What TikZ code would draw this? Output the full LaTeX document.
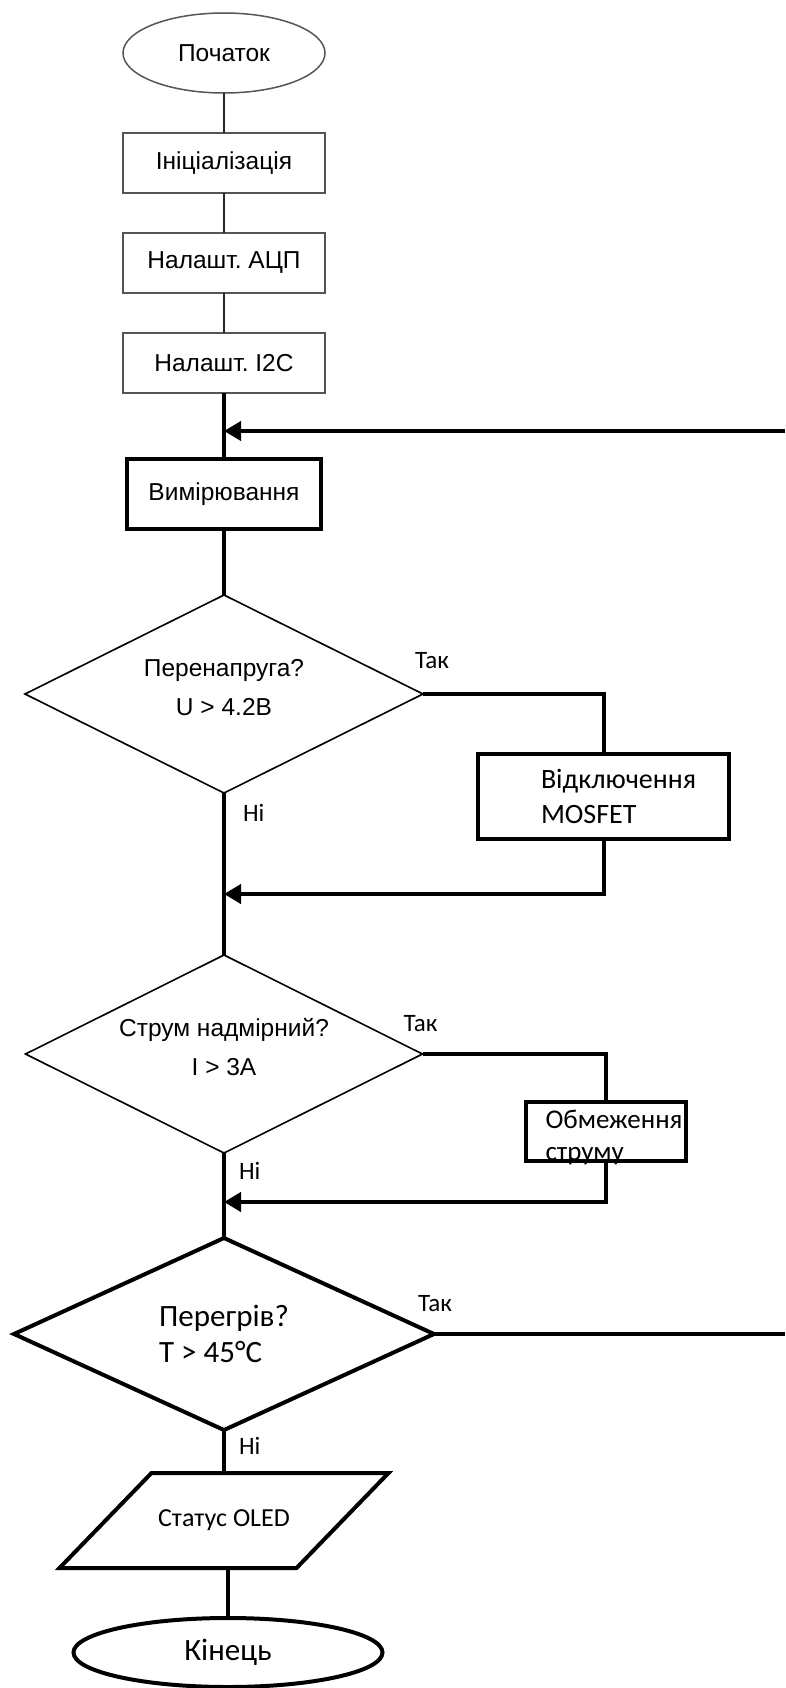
\documentclass[tikz,border=0pt]{standalone}
\usepackage{fontspec}
\setmainfont{Liberation Sans}
\newfontfamily\calibri{Carlito}
\usepackage{xcolor}
\usetikzlibrary{shapes,positioning,arrows.meta}

\definecolor{framegray}{RGB}{85,85,85}
\frenchspacing

\begin{document}
\begin{tikzpicture}[x=1pt, y=-1pt, node distance=40pt,
	  every node/.style = {inner sep=0pt, outer sep=0pt, align=center},
	  terminal/.style = {ellipse, draw=framegray, line width=1.5pt,
	    minimum width=202pt, minimum height=80pt,
	    font=\fontsize{24.5}{29}\selectfont},
	  initbox/.style = {rectangle, draw=framegray, line width=2.5pt,
	    minimum width=202pt, minimum height=60pt,
	    font=\fontsize{24.5}{29}\selectfont},
	  workbox/.style = {rectangle, draw, line width=4pt},
	  decision/.style = {diamond, aspect=2, draw, line width=1.6pt,
	    minimum width=398pt, minimum height=198pt, text depth=14pt,
	    font=\fontsize{24.5}{39}\selectfont},
	  answer/.style = {anchor=base west,
	    font=\calibri\fontsize{25}{30}\selectfont},
	  thinline/.style = {draw=black!85, line width=1.6pt},
	  thickline/.style = {draw, line width=4pt},
	  joinarrow/.style = {thickline, -{Triangle[length=17pt,width=19pt]}}]
	\useasboundingbox (0,0) rectangle (785,1688);
	\coordinate (rim) at (785,0);

	\node[terminal] (start) at (224,53) {Початок};
	\node[initbox, below=of start] (init) {Ініціалізація};
	\node[initbox, below=of init] (adc) {Налашт. АЦП};
	\node[initbox, below=of adc] (i2c) {Налашт. I2C};
	\node[workbox, minimum width=194pt, minimum height=70pt,
	  font=\fontsize{24.5}{29}\selectfont, below=66pt of i2c] (measure) {Вимірювання};
	\node[decision, below=66pt of measure] (over) {Перенапруга?\\U > 4.2В};
	\node[workbox, minimum width=251pt, minimum height=85pt,
	  below right=60pt and 55pt of over.east] (cutoff) {};
	\node[anchor=west, align=left, font=\calibri\fontsize{28}{35}\selectfont]
	  (cutofftext) at ([xshift=63pt]cutoff.west) {Відключення\\MOSFET};
	\node[decision, minimum width=397pt, below=162pt of over] (current) {Струм надмірний?\\I > 3A};
	\node[workbox, minimum width=160pt, minimum height=59pt,
	  below right=48pt and 103pt of current.east] (limit) {};
	\node[anchor=west, align=left, font=\calibri\fontsize{27}{32}\selectfont]
	  (limittext) at ([xshift=20pt, yshift=-6pt]limit.west) {Обмеження\\струму};
	\node[decision, line width=4pt, minimum width=420pt, minimum height=192pt,
	  text depth=0pt, align=left, font=\calibri\fontsize{31}{36}\selectfont,
	  below=85pt of current] (heat) {Перегрів?\\T > 45°C};
	\node[minimum width=237pt, minimum height=95pt,
	  font=\calibri\fontsize{26}{32}\selectfont, below=43pt of heat] (oled) {Статус OLED};
	\node[terminal, draw=black, line width=4pt, minimum width=309pt, minimum height=69pt,
	  font=\calibri\fontsize{31}{36}\selectfont, below=50pt of oled, xshift=4pt] (finish) {Кінець};

	\draw[thickline] ([xshift=46pt]oled.north west) -- ([xshift=46pt]oled.north east)
	  -- ([xshift=-46pt]oled.south east) -- ([xshift=-46pt]oled.south west) -- cycle;

	\draw[thinline] (start) -- (init);
	\draw[thinline] (init) -- (adc);
	\draw[thinline] (adc) -- (i2c);
	\draw[thickline] (i2c) -- (measure);
	\draw[joinarrow] ([yshift=-38pt]i2c.south -| rim) -- ([yshift=-38pt]i2c.south);
	\draw[thickline] (measure) -- (over);
	\draw[thickline] (over.east) -| (cutoff.north);
	\draw[joinarrow] (cutoff.south) |- ([yshift=-55pt]cutoff.south -| over.south);
	\draw[thickline] (over) -- (current);
	\draw[thickline] (current.east) -| (limit.north);
	\draw[joinarrow] (limit.south) |- ([yshift=-41pt]limit.south -| current.south);
	\draw[thickline] (current) -- (heat);
	\draw[thickline] (heat.east) -- (heat.east -| rim);
	\draw[thickline] (heat) -- (oled.north);
	\draw[thickline] (finish |- oled.south) -- (finish);

	\node[answer] (yes1) at ([xshift=-8pt, yshift=26pt]over.east) {Так};
	\node[answer] (no1) at ([xshift=19pt, yshift=-28pt]over.south) {Ні};
	\node[answer] (yes2) at ([xshift=-19pt, yshift=23pt]current.east) {Так};
	\node[answer] (no2) at ([xshift=15pt, yshift=-26pt]current.south) {Ні};
	\node[answer] (yes3) at ([xshift=-16pt, yshift=23pt]heat.east) {Так};
	\node[answer] (no3) at ([xshift=15pt, yshift=-24pt]heat.south) {Ні};
\end{tikzpicture}
\end{document}
